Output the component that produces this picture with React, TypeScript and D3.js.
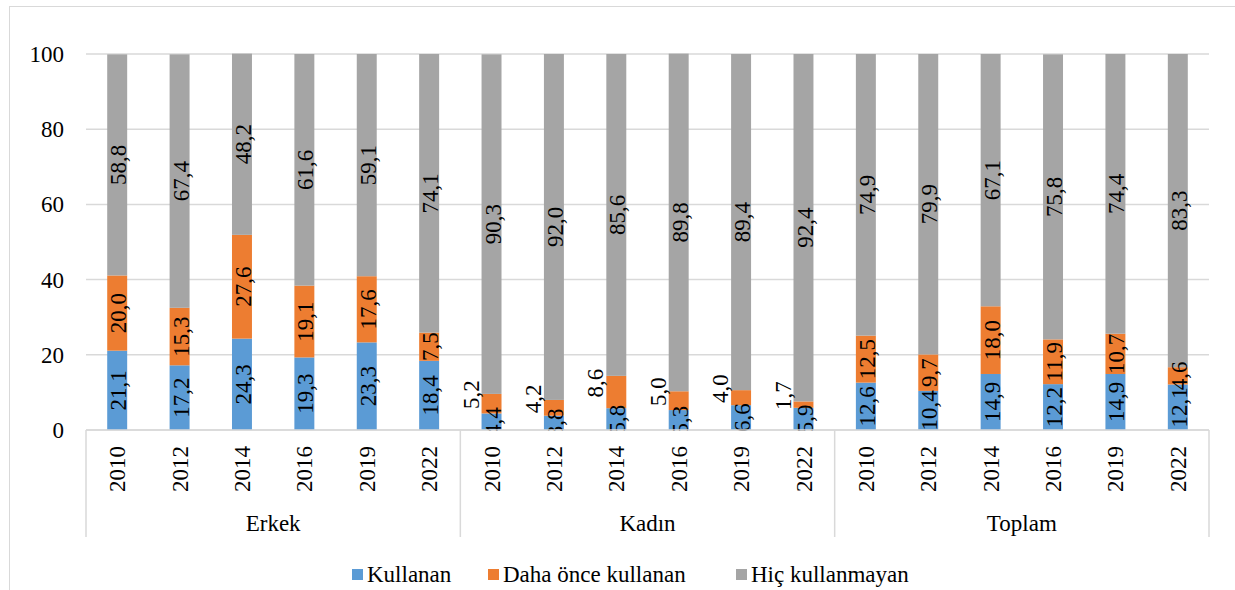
import React from "react";
import * as d3 from "d3";

const groups = ["Erkek", "Kadın", "Toplam"];
const years = ["2010", "2012", "2014", "2016", "2019", "2022"];
const seriesNames = ["Kullanan", "Daha önce kullanan", "Hiç kullanmayan"];
const colors = ["#5B9BD5", "#ED7D31", "#A5A5A5"];

// values per group, per year
const kullanan = [
  [21.1, 17.2, 24.3, 19.3, 23.3, 18.4],
  [4.4, 3.8, 5.8, 5.3, 6.6, 5.9],
  [12.6, 10.4, 14.9, 12.2, 14.9, 12.1],
];
const dahaOnce = [
  [20.0, 15.3, 27.6, 19.1, 17.6, 7.5],
  [5.2, 4.2, 8.6, 5.0, 4.0, 1.7],
  [12.5, 9.7, 18.0, 11.9, 10.7, 4.6],
];
const hicKullanmayan = [
  [58.8, 67.4, 48.2, 61.6, 59.1, 74.1],
  [90.3, 92.0, 85.6, 89.8, 89.4, 92.4],
  [74.9, 79.9, 67.1, 75.8, 74.4, 83.3],
];
const yTicks = [0, 20, 40, 60, 80, 100];

const W = 1235;
const H = 590;
const left = 86;
const right = 1209;
const yTop = 54;
const yBottom = 430;
const font = "'Liberation Serif', 'Times New Roman', serif";
const fs = 23;

type Row = { key: string; g: number; yi: number; vals: number[] };

const rows: Row[] = [];
groups.forEach((g, gi) => {
  years.forEach((yr, yi) => {
    rows.push({
      key: `${g}-${yr}`,
      g: gi,
      yi,
      vals: [kullanan[gi][yi], dahaOnce[gi][yi], hicKullanmayan[gi][yi]],
    });
  });
});

export default function App() {
  const x = d3
    .scaleBand<string>()
    .domain(rows.map((r) => r.key))
    .range([left, right])
    .paddingInner(0.68)
    .paddingOuter(0.34);
  const y = d3.scaleLinear().domain([0, 100]).range([yBottom, yTop]);
  const step = x.step();
  const bw = x.bandwidth();

  const groupBounds = groups.map((_, gi) => [
    left + gi * 6 * step,
    left + (gi + 1) * 6 * step,
  ]);

  const legendX = [352, 488, 736];
  const txt = { fontFamily: font, fontSize: fs, fill: "#000" } as React.CSSProperties;

  return (
    <svg width={W} height={H} style={{ display: "block", position: "absolute", left: 0, top: 0, fontFamily: font }}>
      <defs>
        <clipPath id="plotclip">
          <rect x={0} y={0} width={W} height={yBottom + 1} />
        </clipPath>
      </defs>
      <rect x={0} y={0} width={W} height={H} fill="#fff" />
      <rect x={9.5} y={6.5} width={W + 20} height={H + 20} fill="none" stroke="#D9D9D9" strokeWidth={1} />
      {/* gridlines */}
      {yTicks.map((t) => (
        <line key={t} x1={left} x2={right} y1={y(t)} y2={y(t)} stroke="#D9D9D9" strokeWidth={1.5} />
      ))}
      {yTicks.map((t) => (
        <text key={"t" + t} x={64} y={y(t)} dy="0.35em" textAnchor="end" style={txt}>
          {t}
        </text>
      ))}
      {/* bars */}
      {rows.map((r) => {
        const cx = (x(r.key) as number) + bw / 2;
        let cum = 0;
        return (
          <g key={r.key}>
            {r.vals.map((v, si) => {
              const y0 = cum;
              cum += v;
              return (
                <rect
                  key={si}
                  x={cx - bw / 2}
                  y={y(y0 + v)}
                  width={bw}
                  height={y(y0) - y(y0 + v)}
                  fill={colors[si]}
                />
              );
            })}
          </g>
        );
      })}
      {/* value labels */}
      <g clipPath="url(#plotclip)">
        {rows.map((r) => {
          const cx = (x(r.key) as number) + bw / 2;
          let cum = 0;
          return (
            <g key={"l" + r.key}>
              {r.vals.map((v, si) => {
                const mid = cum + v / 2;
                cum += v;
                let lx = cx + 1;
                let ly = y(mid);
                if (r.g === 1 && si === 1) {
                  lx = cx - 21;
                  ly = y(mid) - 9;
                }
                return (
                  <text
                    key={si}
                    transform={`translate(${lx},${ly}) rotate(-90)`}
                    dy="0.35em"
                    textAnchor="middle"
                    style={txt}
                  >
                    {v.toFixed(1).replace(".", ",")}
                  </text>
                );
              })}
            </g>
          );
        })}
      </g>
      {/* category axis */}
      <line x1={left} x2={right} y1={yBottom} y2={yBottom} stroke="#D9D9D9" strokeWidth={1.5} />
      {[left, ...groupBounds.map((b) => b[1])].map((bx, i) => (
        <line key={"v" + i} x1={bx} x2={bx} y1={yBottom} y2={537} stroke="#D9D9D9" strokeWidth={1.5} />
      ))}
      {rows.map((r) => {
        const cx = (x(r.key) as number) + bw / 2;
        return (
          <text
            key={"y" + r.key}
            transform={`translate(${cx},446) rotate(-90)`}
            dy="0.35em"
            textAnchor="end"
            style={txt}
          >
            {years[r.yi]}
          </text>
        );
      })}
      {groups.map((g, gi) => (
        <text
          key={g}
          x={(groupBounds[gi][0] + groupBounds[gi][1]) / 2}
          y={531}
          textAnchor="middle"
          style={txt}
        >
          {g}
        </text>
      ))}
      {/* legend */}
      {seriesNames.map((n, i) => (
        <g key={n}>
          <rect x={legendX[i]} y={569} width={11} height={11} fill={colors[i]} />
          <text x={legendX[i] + 15} y={582} style={txt}>
            {n}
          </text>
        </g>
      ))}
    </svg>
  );
}
